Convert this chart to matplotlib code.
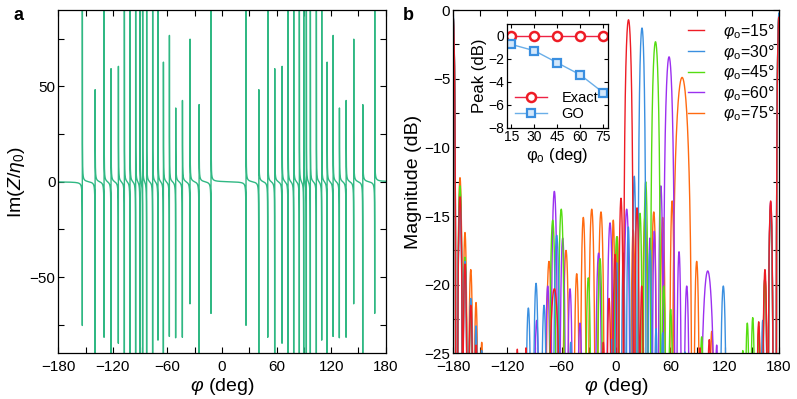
import numpy as np
import matplotlib
matplotlib.use('Agg')
import matplotlib.pyplot as plt
from matplotlib.ticker import MultipleLocator

plt.rcParams['font.family'] = ['Liberation Sans', 'DejaVu Sans']
plt.rcParams['mathtext.fontset'] = 'custom'
plt.rcParams['mathtext.rm'] = 'Liberation Sans'
plt.rcParams['mathtext.it'] = 'Liberation Sans:italic'

# panel a: poles of Im(Z/eta0), with the sampled extremes (None = off the axis)
pole_deg = [-153.6, -139.6, -129.7, -122.1, -114.0, -107.4, -101.2, -95.0, -90.2, -87.3,
            -82.9, -76.3, -70.4, -64.5, -57.9, -51.0, -43.6, -35.2, -25.3, -12.1,
            26.4, 40.4, 50.3, 57.9, 66.0, 72.6, 78.8, 85.0, 89.8, 92.7,
            97.1, 103.7, 109.6, 115.5, 122.1, 129.0, 136.4, 144.8, 154.7, 167.9]
pole_top = [None, 48.6, None, 59.7, 61.0, None, None, None, None, None,
            None, None, None, 63.2, 77.2, 39.1, 43.0, 75.1, 40.7, None,
            None, 48.6, None, 59.7, 61.0, None, None, None, None, None,
            None, None, None, 63.2, 77.2, 39.1, 43.0, 75.1, 40.7, None]
pole_bot = [-75.4, None, -81.9, None, -85.1, None, None, None, None, None,
            None, None, -83.6, None, -81.6, -82.3, -82.0, -64.4, None, -69.3,
            -75.4, None, -81.9, None, -85.1, None, None, None, None, None,
            None, None, -83.6, None, -81.6, -82.3, -82.0, -64.4, None, -69.3]

# panel b: lobes, (centre deg, peak dB, null-to-null width deg)
lobes_15 = [(-180, -0.5, 6), (-172.3, -13.6, 6), (-166.8, -18.5, 5.5), (-160.4, -21.5, 6),
            (-154.6, -24.4, 5), (-109, -24.7, 4), (-99.4, -24.6, 4), (-68.1, -20.3, 15),
            (-14, -24.2, 5), (-7.7, -21.0, 6), (-1.1, -17.8, 6), (5.5, -13.7, 6),
            (13.8, -0.7, 11), (23.2, -14.4, 6), (28.4, -20.1, 5), (92.8, -24.6, 4),
            (103, -24.0, 6), (157.6, -22.7, 5.5), (164.5, -18.9, 6), (170.8, -13.9, 6),
            (180, -0.5, 6)]
lobes_30 = [(-180, -0.2, 6), (-172.3, -14.0, 6), (-166.8, -18.3, 5.5), (-160.4, -21.0, 6),
            (-154.6, -23.0, 5), (-148.3, -24.8, 5), (-96.8, -21.7, 7), (-88.3, -19.9, 7),
            (-79.5, -21.5, 7), (-65.5, -16.4, 8), (-50, -24.2, 5), (-4.7, -24.0, 5),
            (0.8, -18.4, 5), (8.1, -17.7, 5), (13.6, -15.8, 5), (20.2, -12.1, 5),
            (28.7, -1.3, 9), (37.5, -17.5, 6), (44.2, -23.2, 5), (51.6, -23.5, 5),
            (76.2, -24.9, 4), (118.5, -20.1, 8), (162, -22.6, 5), (170.8, -14.5, 6),
            (180, -0.2, 6)]
lobes_45 = [(-180, -0.4, 6), (-172.3, -12.8, 6), (-166.8, -18.0, 5.5), (-160.4, -22.0, 6),
            (-69.9, -15.3, 8), (-60.5, -14.5, 8), (-30.6, -19.5, 7), (-17.7, -18.1, 7),
            (0.8, -16.5, 7), (26.5, -14.8, 6), (32.8, -12.5, 6), (43.6, -2.3, 11.5),
            (52.6, -20.1, 6), (60.4, -21.8, 6), (94.6, -23.8, 6), (140, -24.8, 4),
            (145, -22.8, 6), (151, -22.4, 6), (157.6, -23.5, 5.5), (164.5, -19.5, 6),
            (170.8, -14.5, 6), (180, -0.4, 6)]
lobes_60 = [(-180, -0.4, 6), (-172.3, -13.2, 6), (-166.8, -18.3, 5.5), (-160.4, -22.0, 6),
            (-87.6, -22.6, 7), (-75.4, -20.1, 7), (-68.1, -13.2, 8), (-58.9, -16.6, 7),
            (-50.8, -20.3, 7), (-39.8, -22.8, 7), (-19.2, -17.7, 8), (-6.6, -15.5, 8),
            (11.8, -14.5, 8), (37.5, -16.6, 5), (42.3, -16.1, 5), (49.5, -12.8, 6),
            (58.6, -3.4, 13), (69.6, -17.6, 6), (78.1, -20.1, 7), (101.3, -19.0, 18),
            (111.2, -24.4, 5), (164.5, -19.5, 6), (170.8, -14.0, 6), (180, -0.4, 6)]
lobes_75 = [(-180, -0.4, 6), (-172.3, -12.2, 6), (-166.8, -16.2, 5.5), (-160.4, -18.9, 6),
            (-154.6, -21.3, 5.5), (-148.3, -24.2, 5), (-74.0, -18.3, 8), (-55.2, -17.5, 8),
            (-43.4, -19.2, 7), (-36.1, -15.1, 7), (-26.8, -14.5, 8), (-16.6, -14.7, 8),
            (-3.0, -15.3, 5), (1.5, -16.5, 5), (19.0, -16.0, 6), (32.0, -15.0, 7),
            (41.7, -14.7, 7), (51.6, -15.1, 7), (62.0, -13.9, 6), (73.0, -4.9, 22),
            (89.1, -18.3, 7), (105.7, -23.4, 6), (157.6, -23.0, 5.5), (164.5, -19.5, 6),
            (170.8, -14.2, 6), (180, -0.4, 6)]

series_names = ['15', '30', '45', '60', '75']
series_lobes = [lobes_15, lobes_30, lobes_45, lobes_60, lobes_75]
series_colors = ['#ee1c25', '#3a8fe0', '#55dd11', '#9b30f0', '#ff6a10']

# inset: peak level vs incidence
inc_deg = [15, 30, 45, 60, 75]
peak_exact = [0, 0, 0, 0, 0]
peak_go = [-0.75, -1.3, -2.35, -3.4, -4.95]


def reactance_curve(xp, top, bot, a=3.0, off=300.0):
    xs, ys = [], []
    n = len(xp)
    for i in range(n + 1):
        if i > 0:
            t = top[i - 1] if top[i - 1] is not None else off
            lo = xp[i - 1] + a / t
        else:
            lo = -180.0
        if i < n:
            b = bot[i] if bot[i] is not None else -off
            hi = xp[i] - a / abs(b)
        else:
            hi = 180.0
        x = np.linspace(lo, hi, 400)
        y = np.zeros_like(x)
        if i > 0:
            y += a / (x - xp[i - 1])
        if i < n:
            y += a / (x - xp[i])
        xs.append(x)
        ys.append(y)
    return np.concatenate(xs), np.concatenate(ys)


def lobe_curve(lobes):
    xs, ys = [], []
    t = np.linspace(0.002, 0.998, 150)
    for c, pk, w in lobes:
        xs += list(c - w / 2 + w * t) + [np.nan]
        ys += list(pk + 20 * np.log10(np.sin(np.pi * t))) + [np.nan]
    return np.array(xs), np.array(ys)


def style_axes(ax, size=11):
    ax.tick_params(which='both', direction='in', top=True, right=True,
                   length=4, width=0.8, labelsize=size)
    ax.tick_params(axis='x', pad=5)
    ax.tick_params(axis='y', pad=2)
    for s in ax.spines.values():
        s.set_linewidth(0.9)


fig = plt.figure(figsize=(7.97, 3.99), dpi=100)

# ---- panel a
ax1 = fig.add_axes([0.0732, 0.1145, 0.4108, 0.860])
xa, ya = reactance_curve(pole_deg, pole_top, pole_bot)
ax1.plot(xa, ya, color='#30b883', lw=1.0)
ax1.set_xlim(-180, 180)
ax1.set_ylim(-90, 90)
ax1.xaxis.set_major_locator(MultipleLocator(60))
ax1.xaxis.set_minor_locator(MultipleLocator(30))
ax1.yaxis.set_major_locator(MultipleLocator(50))
ax1.yaxis.set_minor_locator(MultipleLocator(25))
style_axes(ax1)
ax1.set_xlabel(r'$\varphi$ (deg)', fontsize=14, labelpad=1)
ax1.set_ylabel(r'Im($Z/\eta_0$)', fontsize=14, labelpad=2)

# ---- panel b
ax2 = fig.add_axes([0.5684, 0.1145, 0.409, 0.860])
handles = {}
for name, lobes, col in reversed(list(zip(series_names, series_lobes, series_colors))):
    xb, yb = lobe_curve(lobes)
    ln, = ax2.plot(xb, yb, color=col, lw=1.0)
    handles[name] = ln
ax2.set_xlim(-180, 180)
ax2.set_ylim(-25, 0)
ax2.xaxis.set_major_locator(MultipleLocator(60))
ax2.xaxis.set_minor_locator(MultipleLocator(30))
ax2.yaxis.set_major_locator(MultipleLocator(5))
ax2.yaxis.set_minor_locator(MultipleLocator(2.5))
style_axes(ax2)
ax2.set_xlabel(r'$\varphi$ (deg)', fontsize=14, labelpad=1)
ax2.set_ylabel('Magnitude (dB)', fontsize=14, labelpad=2)
fig.legend([handles[n] for n in series_names],
           [r'$\varphi_\mathrm{o}$=' + n + '°' for n in series_names],
           loc='upper left', bbox_to_anchor=(688 / 797, 1 - 22 / 399),
           frameon=False, fontsize=11.5, handlelength=1.0, handletextpad=1.2,
           labelspacing=0.1, borderpad=0, borderaxespad=0)

# ---- inset
ax3 = fig.add_axes([0.636, 0.680, 0.1267, 0.259])
ax3.plot(inc_deg, peak_exact, color='#ee2244', lw=1.0, marker='o', ms=6.5,
         mfc='white', mec='#ee1c25', mew=1.8, label='Exact')
ax3.plot(inc_deg, peak_go, color='#6aaee8', lw=1.0, marker='s', ms=6,
         mfc='#d4e8fb', mec='#3a8fe0', mew=1.6, label='GO')
ax3.set_xlim(12, 78)
ax3.set_ylim(-8, 1)
ax3.set_xticks(inc_deg)
ax3.set_yticks([0, -2, -4, -6, -8])
style_axes(ax3, size=10)
ax3.tick_params(which='both', length=3, pad=2)
ax3.set_xlabel(r'φ$_\mathrm{o}$ (deg)', fontsize=12, labelpad=1)
ax3.set_ylabel('Peak (dB)', fontsize=12, labelpad=1)
ax3.legend(loc='lower left', bbox_to_anchor=(0.08, 0.06), frameon=False,
           fontsize=10.5, handlelength=2.2, handletextpad=1.0,
           labelspacing=0.15, borderpad=0, borderaxespad=0)

fig.text(14 / 797, 1 - 16 / 399, 'a', fontsize=13, fontweight='bold', va='center')
fig.text(403 / 797, 1 - 16 / 399, 'b', fontsize=13, fontweight='bold', va='center')

fig.savefig('out.png', dpi=100)
